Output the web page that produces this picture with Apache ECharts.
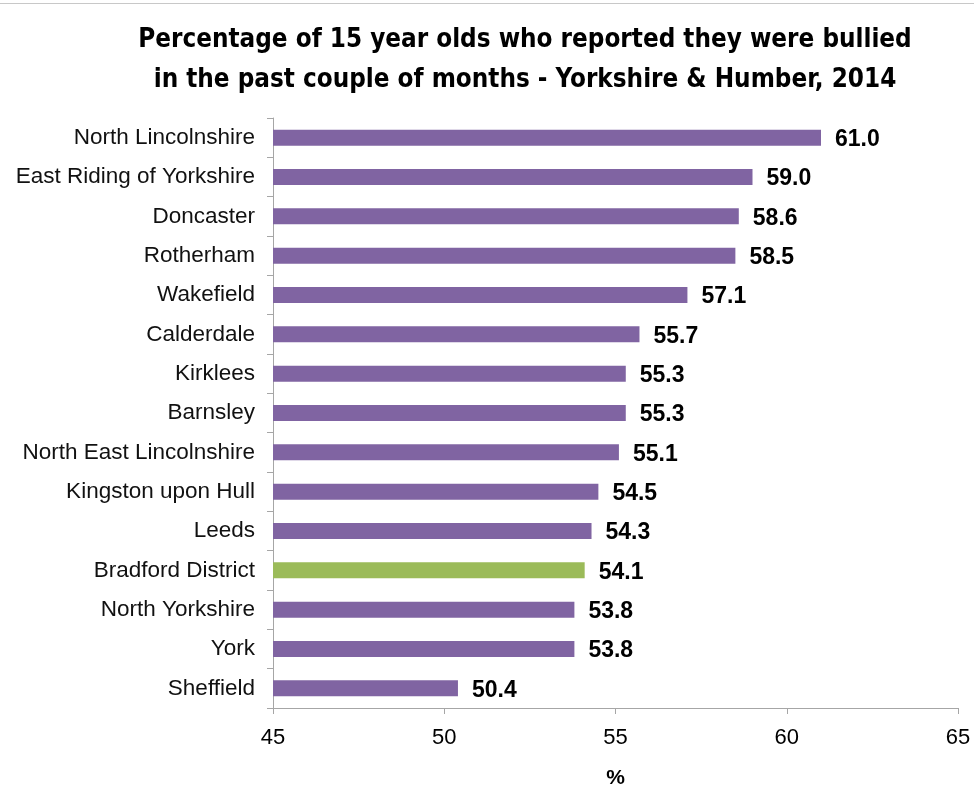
<!DOCTYPE html>
<html>
<head>
<meta charset="utf-8">
<script src="https://cdn.jsdelivr.net/npm/echarts@6/dist/echarts.min.js"></script>
<style>
  html, body { margin: 0; padding: 0; background: #fff; }
  #chart { width: 974px; height: 785px; }
</style>
</head>
<body>
<div id="chart"></div>
<script>
// Local authorities, top to bottom
const areas = [
  'North Lincolnshire', 'East Riding of Yorkshire', 'Doncaster', 'Rotherham',
  'Wakefield', 'Calderdale', 'Kirklees', 'Barnsley', 'North East Lincolnshire',
  'Kingston upon Hull', 'Leeds', 'Bradford District', 'North Yorkshire', 'York',
  'Sheffield'
];
// Percentage bullied in the past couple of months
const percentBullied = [61.0, 59.0, 58.6, 58.5, 57.1, 55.7, 55.3, 55.3, 55.1, 54.5, 54.3, 54.1, 53.8, 53.8, 50.4];
const highlightArea = 'Bradford District';
const axisTicks = [45, 50, 55, 60, 65];

const purple = '#8064A2';
const green = '#9BBB59';
const sans = 'Liberation Sans, Arial, sans-serif';

const chart = echarts.init(document.getElementById('chart'));

// category axis runs bottom-up, so reverse for top-down order
const cats = areas.slice().reverse();
const vals = percentBullied.slice().reverse();

chart.setOption({
  animation: false,
  backgroundColor: '#fff',
  title: {
    text: 'Percentage of 15 year olds who reported they were bullied\nin the past couple of months - Yorkshire & Humber, 2014',
    left: 520,
    textAlign: 'center',
    top: 15,
    textStyle: {
      fontFamily: 'DejaVu Sans Condensed, Liberation Sans, sans-serif',
      fontWeight: 'bold',
      fontSize: 25.8,
      lineHeight: 40,
      color: '#000'
    }
  },
  graphic: [{
    type: 'line',
    shape: { x1: 0, y1: 3.5, x2: 974, y2: 3.5 },
    style: { stroke: '#c8c8c8', lineWidth: 1 }
  }],
  grid: {
    left: 273, right: 16, top: 118, bottom: 77,
    containLabel: false,
    outerBoundsMode: 'none'
  },
  xAxis: {
    type: 'value',
    min: axisTicks[0],
    max: axisTicks[axisTicks.length - 1],
    interval: 5,
    name: '%',
    nameLocation: 'middle',
    nameGap: 60,
    nameTextStyle: {
      fontFamily: sans, fontWeight: 'bold', fontSize: 21, color: '#000'
    },
    axisLine: { show: true, lineStyle: { color: '#a6a6a6', width: 1 } },
    axisTick: { show: true, length: 6, lineStyle: { color: '#a6a6a6' } },
    axisLabel: {
      margin: 19,
      fontFamily: sans, fontSize: 22, color: '#000'
    },
    splitLine: { show: false }
  },
  yAxis: {
    type: 'category',
    data: cats,
    axisLine: { show: true, lineStyle: { color: '#a6a6a6', width: 1 } },
    axisTick: { show: true, length: 6, alignWithLabel: false, lineStyle: { color: '#a6a6a6' } },
    axisLabel: {
      margin: 18,
      fontFamily: sans, fontSize: 22.5, color: '#111'
    }
  },
  series: [{
    type: 'bar',
    data: vals.map((v, i) => ({
      value: v,
      itemStyle: { color: cats[i] === highlightArea ? green : purple }
    })),
    barWidth: 16,
    label: {
      show: true,
      position: 'right',
      distance: 14,
      offset: [0, 2],
      formatter: p => p.value.toFixed(1),
      fontFamily: sans,
      fontWeight: 'bold',
      fontSize: 23,
      color: '#000'
    }
  }]
});
</script>
</body>
</html>
